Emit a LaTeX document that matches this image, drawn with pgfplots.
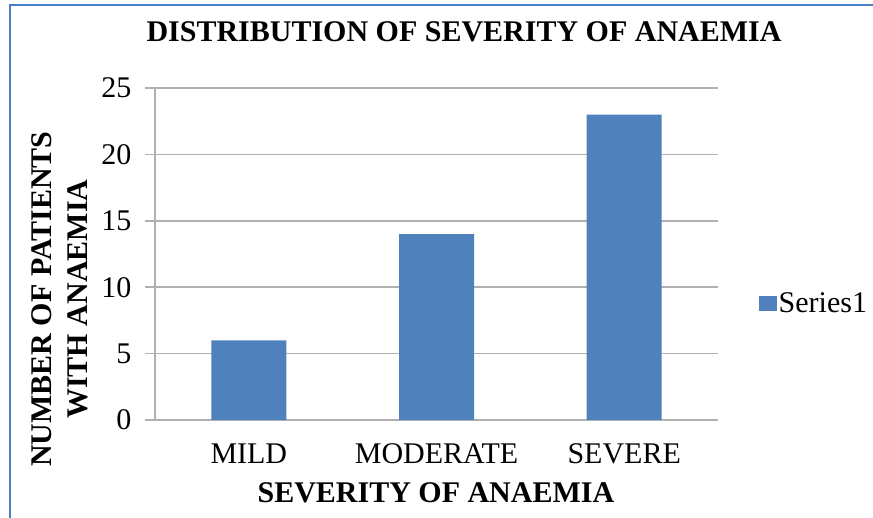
\documentclass[border=0pt]{standalone}
\usepackage{pgfplots}
\pgfplotsset{compat=1.18}
\usepackage{fontspec}
\setmainfont{Liberation Serif}
\definecolor{barblue}{HTML}{4F81BD}
\definecolor{frameblue}{HTML}{4A7EC6}
\definecolor{gridgray}{HTML}{B0B0B0}
\newcommand{\bigfont}{\fontsize{30}{35.5}\selectfont}
\begin{document}
\begin{tikzpicture}[x=1pt,y=1pt]
\useasboundingbox (0,0) rectangle (873,518);
\draw[frameblue, line width=2.5pt] (10,0) -- (10,513) -- (873,513);
\begin{axis}[
    at={(155pt,98pt)}, anchor=south west,
    width=563pt, height=332pt, scale only axis,
    xmin=0, xmax=3, ymin=0, ymax=25,
    xtick={0.5,1.5,2.5},
    xticklabels={MILD,MODERATE,SEVERE},
    ytick={0,5,10,15,20,25},
    axis x line=bottom, axis y line=left,
    axis line style={-, draw=gridgray, line width=1.6pt},
    ymajorgrids,
    grid style={gridgray, line width=1.6pt},
    major tick length=10pt,
    tick align=outside,
    xtick style={draw=none},
    ytick style={draw=gridgray, line width=1.6pt},
    /pgf/number format/assume math mode=true,
    tick label style={font=\bigfont},
    yticklabel style={xshift=-10pt},
    xticklabel style={yshift=-10pt},
    title={\bfseries DISTRIBUTION OF SEVERITY OF ANAEMIA},
    title style={at={(rel axis cs:0.549,1.151)}, anchor=center, font=\bigfont},
    xlabel={\bfseries SEVERITY OF ANAEMIA},
    xlabel style={at={(rel axis cs:0.499,-0.220)}, anchor=center, font=\bigfont},
    ylabel={\bfseries NUMBER OF PATIENTS\\\bfseries WITH ANAEMIA},
    ylabel style={at={(rel axis cs:-0.169,0.364)}, anchor=center, rotate=0, align=center, font=\bigfont},
    legend style={draw=none, fill=none, at={(rel axis cs:1.072,0.352)}, anchor=west,
        inner sep=0pt, font=\bigfont},
    legend image code/.code={\fill[barblue] (0pt,-7.5pt) rectangle (18pt,7.5pt);},
]
\addplot[ybar, bar width=75pt, fill=barblue, draw=none] coordinates {
    (0.5,6) (1.5,14) (2.5,23)
};
\addlegendentry{Series1}
\end{axis}
\end{tikzpicture}
\end{document}
